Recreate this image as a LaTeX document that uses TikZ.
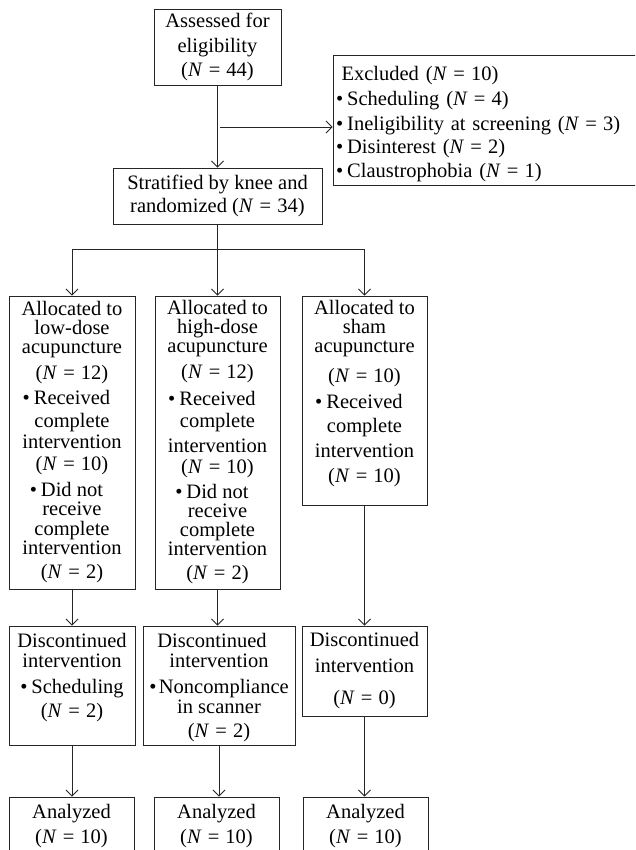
\documentclass[tikz,border=0pt]{standalone}
\usepackage{fontspec}
\setmainfont{Liberation Serif}
\usetikzlibrary{arrows.meta}
\newcommand{\bul}{\textbullet\hspace{4pt}}
\newcommand{\Nv}[1]{(\textit{N}\hspace{0.3em}=\hspace{0.3em}#1)}
\tikzset{
  box/.style={draw=black!85, line width=0.9pt, inner sep=0pt, align=center,
    font={\fontsize{20.5}{19}\selectfont\lineskiplimit=-20pt\lineskip=0pt}},
  arr/.style={draw=black!85, line width=0.9pt, -{Straight Barb[length=6pt,width=12pt]}},
  ln/.style={draw=black!85, line width=0.9pt}
}
\begin{document}
\begin{tikzpicture}[x=1pt,y=-1pt]
\path[use as bounding box, fill=white] (0,0) rectangle (635,850);
\clip (0,0) rectangle (635,850);

% top
\node[box, minimum width=127pt, minimum height=76pt] (assess) at (217.5,47)
  {Assessed for\\[6pt]eligibility\\[5pt]\Nv{44}};
\node[box, minimum width=307pt, minimum height=130pt, text width=301pt, align=left] (excl) at (486.5,120)
  {\rule{0pt}{22pt}\hspace*{5.5pt}Excluded \Nv{10}\\[6pt]\bul Scheduling \Nv{4}\\[6pt]\bul Ineligibility at screening \Nv{3}\\[4pt]\bul Disinterest \Nv{2}\\[5pt]\bul Claustrophobia \Nv{1}};
\node[box, minimum width=209pt, minimum height=56pt] (strat) at (217.5,196)
  {Stratified by knee and\\[4pt]randomized \Nv{34}};

% allocation
\node[box, minimum width=126pt, minimum height=293pt] (a1) at (72,442.5)
  {Allocated to\\low-dose\\acupuncture\\[7pt]\Nv{12}\\[6pt]\llap{\bul}Received\\[4pt]complete\\[2pt]intervention\\[3pt]\Nv{10}\\[7pt]\llap{\bul}Did not\\receive\\[1pt]complete\\intervention\\[5pt]\Nv{2}};
\node[box, minimum width=125pt, minimum height=293pt] (a2) at (217.5,442.5)
  {Allocated to\\high-dose\\acupuncture\\[7pt]\Nv{12}\\[8pt]\llap{\bul}Received\\[3pt]complete\\[6pt]intervention\\[2pt]\Nv{10}\\[6pt]\llap{\bul}Did not\\receive\\complete\\intervention\\[5pt]\Nv{2}};
\node[box, minimum width=125pt, minimum height=209pt] (a3) at (364.5,400.5)
  {Allocated to\\sham\\acupuncture\\[11pt]\Nv{10}\\[7pt]\llap{\bul}Received\\[5pt]complete\\[6pt]intervention\\[6pt]\Nv{10}\rule[-18.5pt]{0pt}{18.5pt}};

% discontinued
\node[box, minimum width=126pt, minimum height=119pt] (d1) at (72,685.5)
  {Discontinued\\[1pt]intervention\\[7pt]\bul Scheduling\\[5pt]\Nv{2}\rule[-20.5pt]{0pt}{20.5pt}};
\node[box, minimum width=152pt, minimum height=119pt] (d2) at (219,685.5)
  {\rule{0pt}{18pt}Discontinued\hspace*{14pt}\\[1pt]intervention\hspace*{14pt}\\[7pt]\textbullet\hspace{2.5pt}Noncompliance\\[1pt]in scanner\\[5pt]\Nv{2}};
\node[box, minimum width=125pt, minimum height=90pt] (d3) at (364.5,671)
  {Discontinued\\[7pt]intervention\\[13pt]\Nv{0}};

% analyzed
\node[box, minimum width=125pt, minimum height=58pt] (n1) at (71.5,826)
  {Analyzed\\[6pt]\Nv{10}};
\node[box, minimum width=125pt, minimum height=58pt] (n2) at (216.5,826)
  {Analyzed\\[6pt]\Nv{10}};
\node[box, minimum width=125pt, minimum height=58pt] (n3) at (365.5,826)
  {Analyzed\\[6pt]\Nv{10}};

% connectors
\coordinate (br) at (220,127);
\coordinate (split) at (217.5,249);
\draw[arr] (assess.south) -- (strat.north);
\draw[arr] (br) -- (br -| excl.west);
\draw[ln] (strat.south) -- (split);
\draw[arr] (split) -- (a2.north);
\draw[arr] (split) -| (a1.north);
\draw[arr] (split) -| (a3.north);
\draw[arr] (a1.south) -- (a1.south |- d1.north);
\draw[arr] (a2.south) -- (a2.south |- d2.north);
\draw[arr] (a3.south) -- (a3.south |- d3.north);
\draw[arr] (d1.south) -- (d1.south |- n1.north);
\draw[arr] (d2.south) -- (d2.south |- n2.north);
\draw[arr] (d3.south) -- (d3.south |- n3.north);
\end{tikzpicture}
\end{document}
